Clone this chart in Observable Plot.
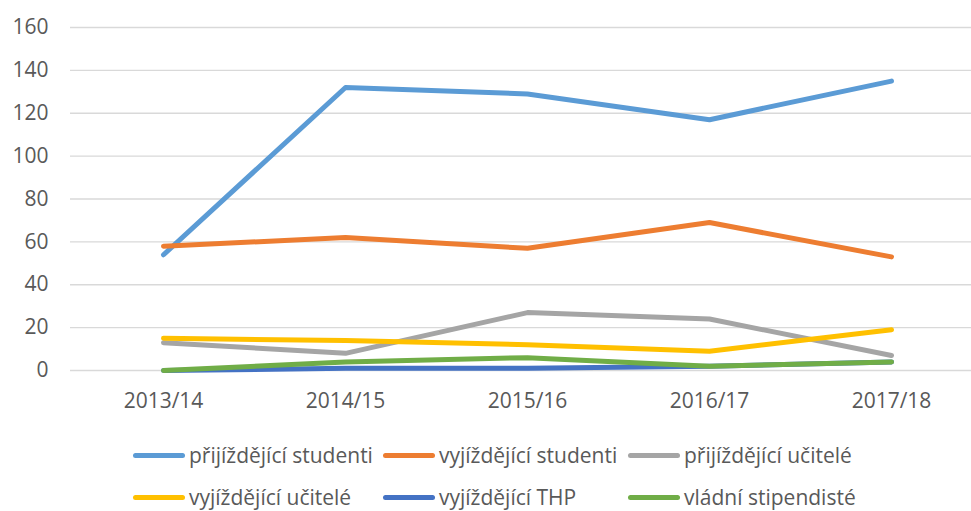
<!DOCTYPE html>
<html>
<head>
<meta charset="utf-8">
<script src="https://cdn.jsdelivr.net/npm/d3@7"></script>
<script src="https://cdn.jsdelivr.net/npm/@observablehq/plot@0.6"></script>
<style>
  body { margin: 0; background: #fff; font-family: "Open Sans", sans-serif; }
  #chart { position: relative; width: 971px; height: 511px; overflow: hidden; }
  #legend { position: absolute; left: 0; top: 0; width: 971px; }
  .item { position: absolute; display: flex; align-items: center; font-size: 21px; line-height: 24px; color: #595959; white-space: nowrap; }
  .sw { width: 52px; height: 5px; border-radius: 3px; margin-right: 4px; }
</style>
</head>
<body>
<div id="chart"></div>
<script>
const years = ["2013/14", "2014/15", "2015/16", "2016/17", "2017/18"];
const seriesNames = ["přijíždějící studenti", "vyjíždějící studenti", "přijíždějící učitelé", "vyjíždějící učitelé", "vyjíždějící THP", "vládní stipendisté"];
const colors = ["#5B9BD5", "#ED7D31", "#A5A5A5", "#FFC000", "#4472C4", "#70AD47"];
const prijizdejiciStudenti = [54, 132, 129, 117, 135];
const vyjizdejiciStudenti = [58, 62, 57, 69, 53];
const prijizdejiciUcitele = [13, 8, 27, 24, 7];
const vyjizdejiciUcitele = [15, 14, 12, 9, 19];
const vyjizdejiciTHP = [0, 1, 1, 2, 4];
const vladniStipendiste = [0, 4, 6, 2, 4];
const yTicks = [0, 20, 40, 60, 80, 100, 120, 140, 160];

const allSeries = [prijizdejiciStudenti, vyjizdejiciStudenti, prijizdejiciUcitele, vyjizdejiciUcitele, vyjizdejiciTHP, vladniStipendiste];
const data = [];
allSeries.forEach((vals, i) => vals.forEach((v, j) => data.push({series: seriesNames[i], year: years[j], value: v})));

const plot = Plot.plot({
  width: 971,
  height: 430,
  marginLeft: 70,
  marginRight: 0,
  marginTop: 27,
  marginBottom: 60,
  style: {fontFamily: "'Open Sans', sans-serif", fontSize: "21px", color: "#595959", background: "#fff"},
  x: {type: "point", domain: years, range: [161, 892], padding: 0, label: null},
  y: {domain: [0, 160], ticks: yTicks, label: null},
  color: {domain: seriesNames, range: colors},
  marks: [
    Plot.ruleY(yTicks, {stroke: "#D9D9D9", strokeWidth: 1.3}),
    Plot.axisY({ticks: yTicks, tickSize: 0, tickPadding: 22, label: null, fill: "#595959"}),
    Plot.axisX({tickSize: 0, tickPadding: 23, label: null, fill: "#595959"}),
    Plot.line(data, {x: "year", y: "value", z: "series", stroke: "series", strokeWidth: 5, strokeLinecap: "round", strokeLinejoin: "round"})
  ]
});
const chart = document.getElementById("chart");
chart.appendChild(plot);

const legend = document.createElement("div");
legend.id = "legend";
const colX = [133, 383, 628];
const rowY = [455, 497];
seriesNames.forEach((name, i) => {
  const it = document.createElement("div");
  it.className = "item";
  it.style.left = colX[i % 3] + "px";
  it.style.top = (rowY[Math.floor(i / 3)] - 12) + "px";
  it.style.height = "24px";
  const sw = document.createElement("div");
  sw.className = "sw";
  sw.style.background = colors[i];
  const t = document.createElement("span");
  t.textContent = name;
  it.appendChild(sw);
  it.appendChild(t);
  legend.appendChild(it);
});
chart.appendChild(legend);
</script>
</body>
</html>
